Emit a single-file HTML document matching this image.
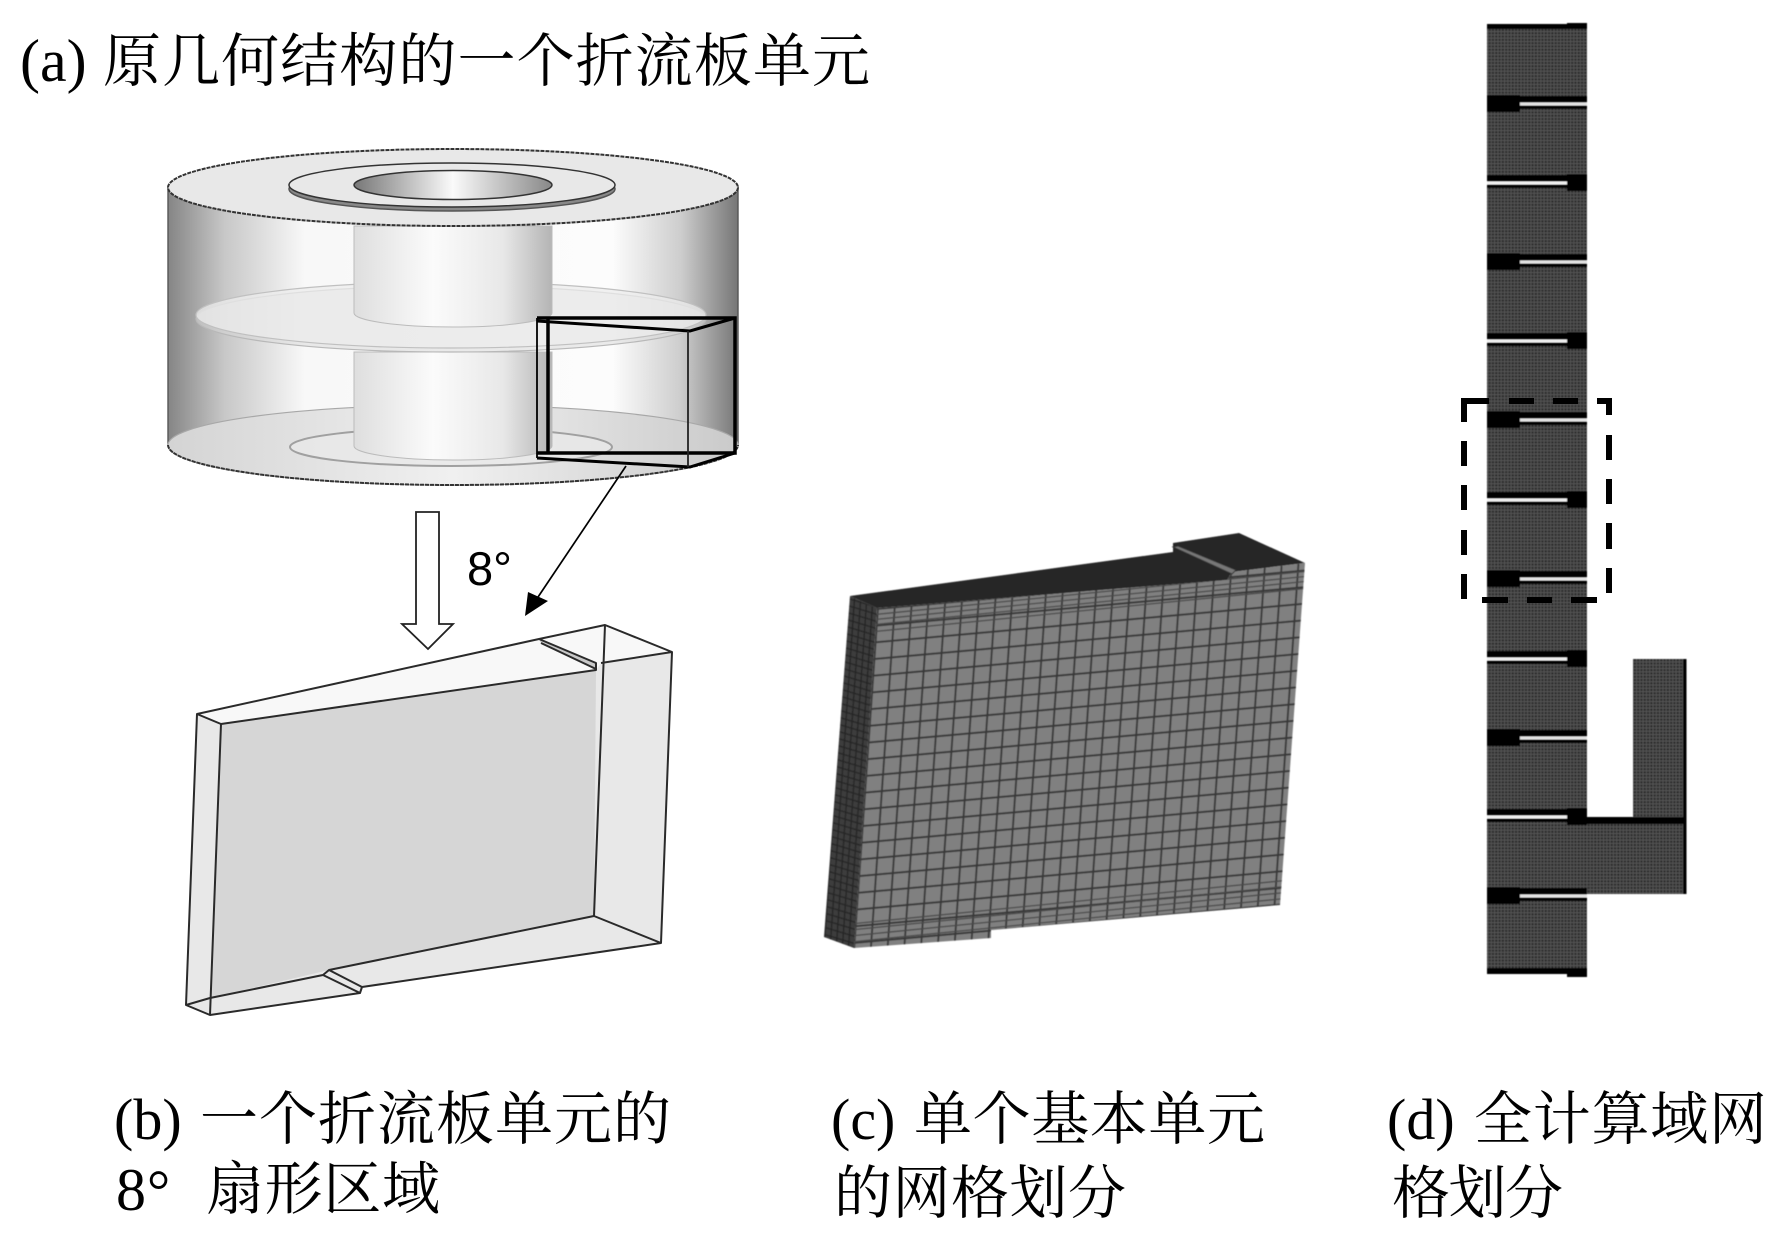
<!DOCTYPE html>
<html>
<head>
<meta charset="utf-8">
<style>
html,body{margin:0;padding:0;background:#fff;width:1792px;height:1246px;overflow:hidden}
svg{display:block}
text{fill:#000}
.t{font-family:"Liberation Serif","Noto Serif CJK SC",serif;font-size:58px}
</style>
</head>
<body>
<svg xmlns="http://www.w3.org/2000/svg" width="1792" height="1246" viewBox="0 0 1792 1246">
<defs>
<filter id="soft" x="-5%" y="-5%" width="110%" height="110%"><feGaussianBlur stdDeviation="0.6"/></filter>
<linearGradient id="wall" x1="0" x2="1" y1="0" y2="0">
<stop offset="0" stop-color="#858585"/><stop offset=".1" stop-color="#c8c8c8"/><stop offset=".24" stop-color="#f8f8f8"/><stop offset=".78" stop-color="#fcfcfc"/><stop offset=".9" stop-color="#cdcdcd"/><stop offset="1" stop-color="#767676"/>
</linearGradient>
<linearGradient id="col" x1="0" x2="1" y1="0" y2="0">
<stop offset="0" stop-color="#dedede"/><stop offset=".4" stop-color="#fbfbfb"/><stop offset=".75" stop-color="#e8e8e8"/><stop offset="1" stop-color="#b4b4b4"/>
</linearGradient>
<linearGradient id="hole" x1="0" x2="1" y1="0" y2="0">
<stop offset="0" stop-color="#777"/><stop offset=".5" stop-color="#fafafa"/><stop offset="1" stop-color="#888"/>
</linearGradient>
<linearGradient id="floor" x1="0" x2="1" y1="0" y2="0">
<stop offset="0" stop-color="#d4d4d4"/><stop offset=".5" stop-color="#f0f0f0"/><stop offset="1" stop-color="#cacaca"/>
</linearGradient>
<pattern id="dm" patternUnits="userSpaceOnUse" width="6.600" height="6.600" x="1487" y="24">
<rect width="6.600" height="6.600" fill="#2b2b2b"/>
<path d="M1 0V6.600M4.300 0V6.600M0 1H6.600M0 4.300H6.600" stroke="#565656" stroke-width="1"/>
</pattern>
<pattern id="cm" patternUnits="userSpaceOnUse" width="16.8" height="16.7" patternTransform="matrix(1 -0.09 -0.07 1 877 608)">
<rect width="16.8" height="16.7" fill="#808080"/>
<path d="M1 0V16.7M0 1H16.8" stroke="#383838" stroke-width="1.900"/>
</pattern>
<pattern id="sd" patternUnits="userSpaceOnUse" width="6" height="7" patternTransform="matrix(1 .3 -.07 1 0 0)">
<rect width="6" height="7" fill="#3c3c3c"/>
<path d="M0 1H6M2 0V7" stroke="#272727" stroke-width="1.4"/>
</pattern>
<clipPath id="face"><polygon points="877,608 1227,580 1232,572 1305,563 1280,905 991,930 991,938 854,948"/></clipPath>
<g id="R"><rect x="1487" y="-9" width="33" height="17" fill="#000"/><rect x="1487" y="-8" width="100" height="13" fill="#000"/><rect x="1520" y="-1.5" width="67" height="3" fill="#e4e4e4"/></g>
<g id="L"><rect x="1567" y="-9" width="20" height="17" fill="#000"/><rect x="1487" y="-8" width="100" height="13" fill="#000"/><rect x="1487" y="-1.5" width="80" height="3" fill="#f0f0f0"/></g>
</defs>

<!-- (a) title -->
<text class="t" x="20" y="81" style="font-size:60px">(a)</text>
<text class="t" x="103" y="81" textLength="767" lengthAdjust="spacing">原几何结构的一个折流板单元</text>

<!-- cylinder -->
<path d="M168 187V445A285 40 0 0 0 738 445V187Z" fill="url(#wall)" stroke="#555" stroke-width="1.400"/>
<ellipse cx="453" cy="445" rx="285" ry="40" fill="url(#floor)" stroke="#a8a8a8" stroke-width="1.2"/>
<path d="M168 445A285 40 0 0 0 738 445" fill="none" stroke="#333" stroke-width="2" stroke-dasharray="4 1"/>
<ellipse cx="451" cy="447" rx="161" ry="19" fill="#e8e8e8" fill-opacity=".8" stroke="#a0a0a0" stroke-width="2"/>
<path d="M354 352V446A99 14 0 0 0 552 446V352Z" fill="url(#col)" stroke="#bbb" stroke-width="1"/>
<ellipse cx="451" cy="319" rx="255" ry="33" fill="#d8d8d8" fill-opacity=".5" stroke="#b8b8b8" stroke-width="1.2"/>
<ellipse cx="451" cy="315" rx="255" ry="33" fill="#ececec" fill-opacity=".75" stroke="#c0c0c0" stroke-width="1.2"/>
<path d="M354 226V313A99 14 0 0 0 552 313V226Z" fill="url(#col)" stroke="#bbb" stroke-width="1"/>
<ellipse cx="453" cy="187.500" rx="285" ry="38.500" fill="#e8e8e8" stroke="#333" stroke-width="2" stroke-dasharray="4 1"/>
<ellipse cx="452" cy="189" rx="163" ry="22" fill="#888" stroke="#555" stroke-width="1.5"/>
<ellipse cx="452" cy="185" rx="163" ry="22" fill="#e8e8e8" stroke="#333" stroke-width="1.5"/>
<ellipse cx="453" cy="185" rx="99" ry="14.500" fill="url(#hole)" stroke="#333" stroke-width="1.5"/>

<!-- black box -->
<g fill="none" stroke="#000">
<path d="M537 318H735V453H537" stroke-width="3.500"/>
<path d="M548 318V453" stroke-width="3.500"/>
<path d="M537 318V458" stroke-width="1.800"/>
<path d="M537 321L690 331L735 318" stroke-width="3"/>
<path d="M537 458L690 467L735 453" stroke-width="3"/>
<path d="M688 331V467" stroke-width="1.800" stroke="#222"/>
</g>

<!-- thin arrow -->
<line x1="626" y1="466" x2="534" y2="603" stroke="#000" stroke-width="1.700"/>
<polygon points="525,616 528,592 548,601" fill="#000"/>

<!-- hollow arrow -->
<polygon points="416,512 439,512 439,624 453,624 428,649 402,624 416,624" fill="#fff" stroke="#222" stroke-width="1.800"/>

<!-- 8 deg -->
<text x="467" y="585" style="font-family:'Liberation Sans',sans-serif;font-size:47px">8°</text>

<!-- (b) wedge -->
<g stroke-linejoin="round">
<polygon points="197,714 539,639 605,625 672,652 661,943 362,987 360,993 210,1015 186,1005" fill="#e8e8e8"/>
<polygon points="197,714 539,639 605,625 672,652 601,663 596,670 221,724" fill="#f8f8f8"/>
<polygon points="539,639 596,663 596,669 541,643" fill="#c8c8c8"/>
<polygon points="221,724 596,670 594,916 329,970 210,998" fill="#d6d6d6"/>
<g fill="none" stroke="#2a2a2a" stroke-width="2">
<path d="M197 714L539 639L605 625L672 652L661 943L362 987L360 993L210 1015L186 1005Z"/>
<path d="M197 714L221 724L210 1015"/>
<path d="M221 724L596 670L596 663L539 639"/>
<path d="M601 663L672 652"/>
<path d="M605 625L594 916L661 943"/>
<path d="M594 916L329 970L323 975L210 998L186 1005"/>
<path d="M329 970L362 987M323 975L360 993"/>
<path d="M541 643L596 669"/>
</g>
</g>

<!-- (c) mesh -->
<g filter="url(#soft)">
<polygon points="850,596 1173,552 1173,543 1239,533 1305,563 1232,572 1227,580 877,608" fill="#262626"/>
<polygon points="850,596 877,608 854,948 824,937" fill="url(#sd)"/>
<polygon points="877,608 1227,580 1232,572 1305,563 1280,905 991,930 991,938 854,948" fill="url(#cm)"/>
<g clip-path="url(#face)" stroke="#4a4a4a" stroke-width="1.300" fill="none">
<path d="M870 615L1310 571M870 620L1310 576M870 625L1310 581M870 632L1310 588"/>
<path d="M850 936L1290 892M850 930L1290 886M850 924L1290 880M850 942L1290 898"/>
</g>
<polygon points="1173,547 1178,546 1236,570 1232,574" fill="#777" stroke="#333" stroke-width="1"/>
</g>

<!-- (d) column -->
<g filter="url(#soft)">
<rect x="1487" y="24" width="100" height="950" fill="url(#dm)"/>
<rect x="1633" y="659" width="53" height="158" fill="url(#dm)"/>
<rect x="1585" y="824" width="101" height="70" fill="url(#dm)"/>
<rect x="1585" y="817" width="101" height="7" fill="#000"/>
<rect x="1683" y="659" width="3.500" height="235" fill="#000"/>
<rect x="1487" y="24" width="100" height="5" fill="#000"/>
<rect x="1567" y="23" width="20" height="6" fill="#000"/>
<rect x="1487" y="968" width="100" height="6" fill="#000"/>
<rect x="1567" y="970" width="20" height="7" fill="#000"/>
<use href="#R" y="104"/><use href="#L" y="183"/><use href="#R" y="262"/><use href="#L" y="341"/>
<use href="#R" y="420"/><use href="#L" y="500"/><use href="#R" y="579"/><use href="#L" y="659"/>
<use href="#R" y="738"/><use href="#L" y="817"/><use href="#R" y="896"/>
</g>

<!-- dashed box -->
<g fill="none" stroke="#000" stroke-width="6">
<path d="M1489 401H1464V422"/>
<path d="M1464 441V466M1464 485V510M1464 530V555M1464 574V599"/>
<path d="M1509 401H1534M1553 401H1578"/>
<path d="M1597 401H1609V415"/>
<path d="M1609 435V460M1609 479V504M1609 523V549M1609 568V593"/>
<path d="M1482 600H1508M1527 600H1552M1571 600H1597"/>
</g>

<!-- captions -->
<text class="t" x="114" y="1139">(b)</text>
<text class="t" x="200" y="1139" textLength="471" lengthAdjust="spacing">一个折流板单元的</text>
<text class="t" x="116" y="1210" style="font-size:60px">8</text>
<text class="t" x="147" y="1210">°</text>
<text class="t" x="206" y="1209" textLength="234" lengthAdjust="spacing">扇形区域</text>
<text class="t" x="831" y="1139">(c)</text>
<text class="t" x="914" y="1139" textLength="351" lengthAdjust="spacing">单个基本单元</text>
<text class="t" x="834" y="1213" textLength="292" lengthAdjust="spacing">的网格划分</text>
<text class="t" x="1387" y="1139">(d)</text>
<text class="t" x="1474" y="1139" textLength="293" lengthAdjust="spacing">全计算域网</text>
<text class="t" x="1392" y="1213" textLength="171" lengthAdjust="spacing">格划分</text>
</svg>
</body>
</html>
